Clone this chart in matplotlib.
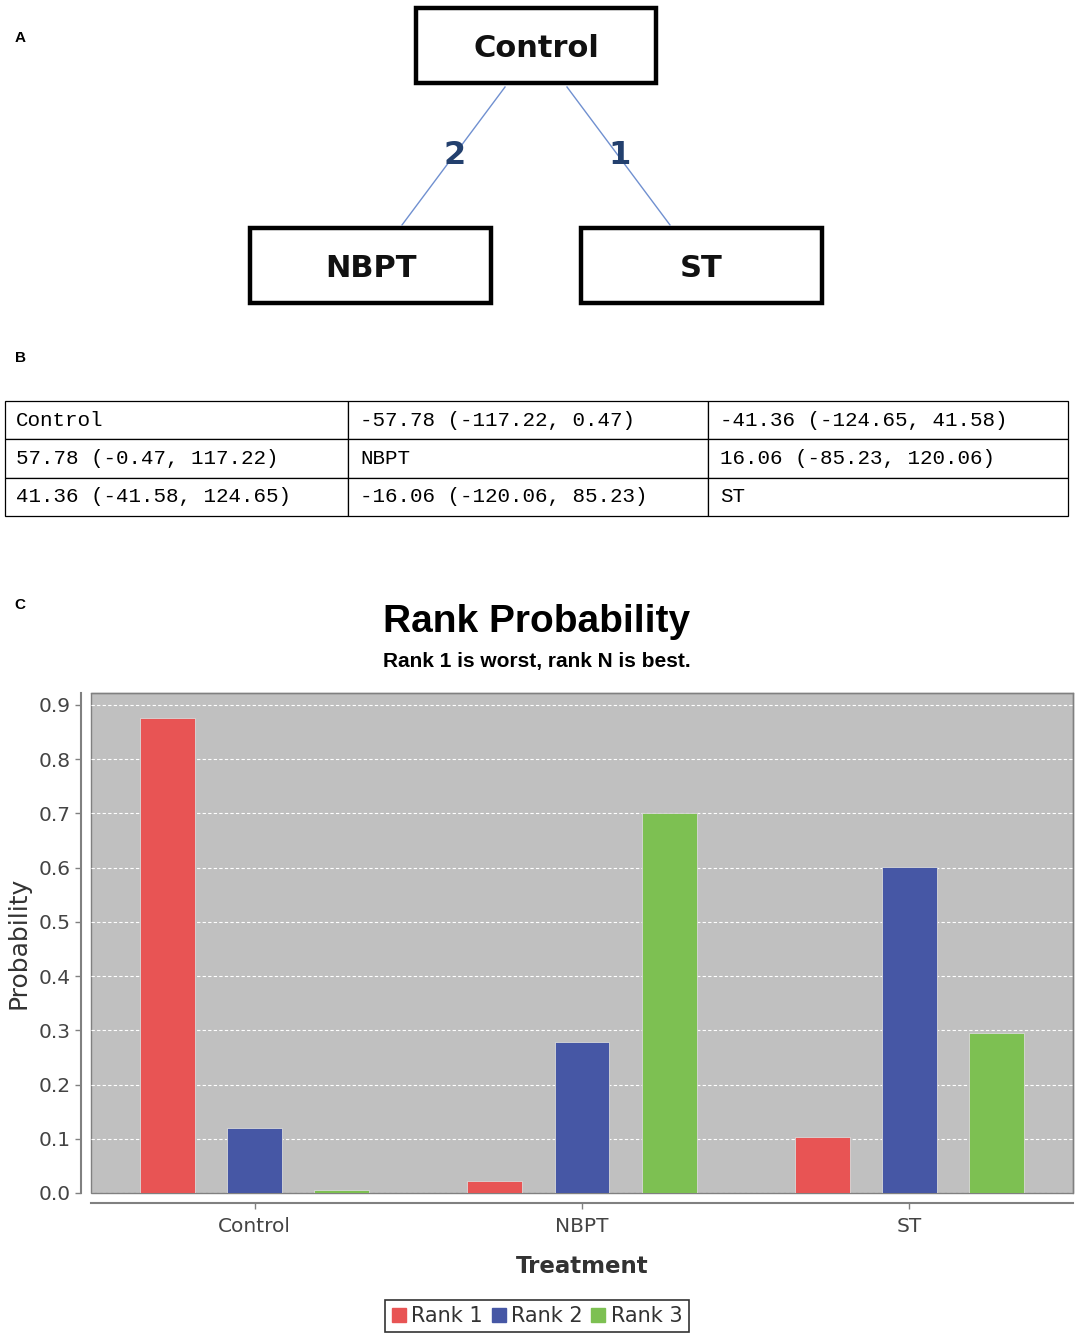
import matplotlib
matplotlib.use('Agg')
import matplotlib.pyplot as plt
from matplotlib.patches import Rectangle
from matplotlib.lines import Line2D
import numpy as np

# --- data ---
treatments = ['Control', 'NBPT', 'ST']
rank_labels = ['Rank 1', 'Rank 2', 'Rank 3']
rank1 = [0.875, 0.022, 0.103]
rank2 = [0.120, 0.278, 0.602]
rank3 = [0.005, 0.700, 0.295]
rank_colors = ['#E85454', '#4657A5', '#7DC052']

# network comparisons (number of studies on each edge)
edges = [('Control', 'NBPT', '2'), ('Control', 'ST', '1')]

# league table (panel B)
league_rows = [
    ['Control', '-57.78 (-117.22, 0.47)', '-41.36 (-124.65, 41.58)'],
    ['57.78 (-0.47, 117.22)', 'NBPT', '16.06 (-85.23, 120.06)'],
    ['41.36 (-41.58, 124.65)', '-16.06 (-120.06, 85.23)', 'ST'],
]

W, H = 1077, 1339
fig = plt.figure(figsize=(W / 100, H / 100), dpi=100)

# overlay in pixel coords for panels A/B
ov = fig.add_axes([0, 0, 1, 1])
ov.set_xlim(0, W)
ov.set_ylim(H, 0)
ov.axis('off')

for lbl, (px, py) in zip(['A', 'B', 'C'], [(20, 38), (20, 358), (20, 605)]):
    ov.text(px, py, lbl, fontsize=11, fontweight='bold', family='Liberation Sans',
            ha='center', va='center')

# --- panel A: network ---
node_box = {'Control': (416, 8, 240, 75), 'NBPT': (250, 228, 241, 75), 'ST': (581, 228, 241, 75)}
edge_ends = {('Control', 'NBPT'): ((505, 87), (402, 225)),
             ('Control', 'ST'): ((567, 87), (670, 225))}
edge_label_pos = {('Control', 'NBPT'): (455, 155), ('Control', 'ST'): (620, 155)}

for name, (bx, by, bw, bh) in node_box.items():
    ov.add_patch(Rectangle((bx, by), bw, bh, fill=False, edgecolor='black', linewidth=3.2))
    ov.text(bx + bw / 2, by + bh / 2 + 3, name, fontsize=22, fontweight='bold',
            family='DejaVu Sans', ha='center', va='center', color='#111111')

for a, b, n in edges:
    (x0, y0), (x1, y1) = edge_ends[(a, b)]
    ov.plot([x0, x1], [y0, y1], color='#7090D0', linewidth=1.0)
    lx, ly = edge_label_pos[(a, b)]
    ov.text(lx, ly, n, fontsize=23, fontweight='bold', color='#23406E',
            ha='center', va='center')

# --- panel B: league table ---
tab_ax = fig.add_axes([5 / W, 1 - 516 / H, 1063 / W, 115 / H])
tab_ax.axis('off')
tbl = tab_ax.table(cellText=league_rows, cellLoc='left', bbox=[0, 0, 1, 1],
                   colWidths=[343, 360, 360])
tbl.auto_set_font_size(False)
for (r, c), cell in tbl.get_celld().items():
    cell.set_linewidth(0.9)
    cell.set_edgecolor('black')
    cell.PAD = 0.033
    cell.get_text().set_fontsize(15)
    cell.get_text().set_family('Liberation Mono')

# --- panel C: rank probability ---
ax = fig.add_axes([91 / W, 1 - 1193 / H, 982 / W, 500 / H])
x = np.arange(len(treatments))
bar_w = 0.168
offsets = [-0.266, 0.0, 0.266]
for series, off, col in zip([rank1, rank2, rank3], offsets, rank_colors):
    ax.bar(x + off, series, bar_w, color=col, edgecolor='#d9d9d9', linewidth=0.6, zorder=3)

ax.set_xlim(-0.5, 2.5)
ax.set_ylim(0, 0.922)
ax.set_facecolor('#C0C0C0')
ax.patch.set_edgecolor('#808080')
ax.patch.set_linewidth(1.0)
ax.set_yticks(np.arange(0, 0.91, 0.1))
ax.set_yticklabels([f'{v:.1f}' for v in np.arange(0, 0.91, 0.1)])
ax.set_xticks(x)
ax.set_xticklabels(treatments)
ax.yaxis.grid(True, color='white', linestyle=(0, (3, 2)), linewidth=0.8, zorder=1)
ax.set_axisbelow(True)

for s in ['top', 'right']:
    ax.spines[s].set_color('#808080')
    ax.spines[s].set_linewidth(1.0)
ax.spines['left'].set_position(('outward', 7))
ax.spines['bottom'].set_position(('outward', 7))
ax.spines['left'].set_color('#808080')
ax.spines['bottom'].set_color('#808080')
ax.spines['left'].set_linewidth(1.5)
ax.spines['bottom'].set_linewidth(1.5)
ax.tick_params(axis='both', colors='#808080', labelcolor='#444444', labelsize=14.5,
               length=4, width=1)
ax.tick_params(axis='x', pad=6)
ax.set_ylabel('Probability', fontsize=18, color='#333333', labelpad=6)
ax.set_xlabel('Treatment', fontsize=16.5, fontweight='bold', color='#333333', labelpad=14)

fig.text(537 / W, 1 - 622 / H, 'Rank Probability', fontsize=28, fontweight='bold',
         family='Liberation Sans', ha='center', va='center')
fig.text(537 / W, 1 - 661 / H, 'Rank 1 is worst, rank N is best.', fontsize=15,
         fontweight='bold', family='Liberation Sans', ha='center', va='center')

handles = [Line2D([], [], marker='s', linestyle='', markersize=10, color=c) for c in rank_colors]
leg = fig.legend(handles, rank_labels, loc='center', bbox_to_anchor=(537 / W, 1 - 1316 / H),
                 ncol=3, fontsize=15, frameon=True, fancybox=False, handletextpad=0.25,
                 columnspacing=0.4, borderpad=0.3, handlelength=0.7)
leg.get_frame().set_edgecolor('black')
leg.get_frame().set_linewidth(1.2)
for t in leg.get_texts():
    t.set_color('#333333')

fig.savefig('out.png', dpi=100, facecolor='white')
